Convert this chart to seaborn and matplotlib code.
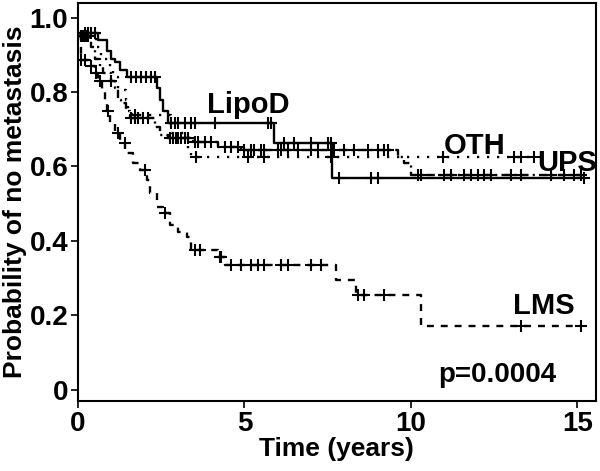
import numpy as np
import pandas as pd
import matplotlib
matplotlib.use('Agg')
import matplotlib.pyplot as plt
import seaborn as sns

# Kaplan-Meier steps (time in years, survival)
lipod_t = [0, 0.6, 0.87, 1.0, 1.1, 1.25, 1.47, 2.36, 2.45, 2.55, 2.7, 5.9, 7.63, 15.2]
lipod_s = [0.96, 0.94, 0.91, 0.89, 0.88, 0.86, 0.84, 0.81, 0.78, 0.75, 0.716, 0.663, 0.569, 0.569]
lipod_c = [0.2, 0.3, 0.4, 0.5, 1.6, 1.75, 1.9, 2.05, 2.2, 2.3, 2.8, 2.9, 3.0, 3.2, 3.4, 3.5,
           4.1, 5.7, 5.8, 6.2, 6.5, 7.0, 7.5, 7.6, 7.85, 8.8, 9.0, 15.2]

oth_t = [0, 0.55, 0.7, 0.95, 1.05, 1.2, 1.45, 1.5, 1.62, 2.8, 3.3, 3.4, 13.7]
oth_s = [0.95, 0.92, 0.89, 0.865, 0.84, 0.805, 0.78, 0.74, 0.738, 0.69, 0.645, 0.625, 0.625]
oth_c = [0.15, 0.25, 1.7, 3.55, 5.1, 5.6, 7.6, 10.95, 13.1, 13.3, 13.7]

ups_t = [0, 0.35, 0.4, 0.5, 0.65, 0.75, 1.0, 1.1, 1.2, 1.3, 1.45, 1.55, 2.3, 2.45, 2.7,
         3.45, 4.2, 4.9, 9.6, 9.8, 10.0, 15.1]
ups_s = [0.95, 0.94, 0.92, 0.89, 0.867, 0.85, 0.83, 0.81, 0.78, 0.77, 0.75, 0.73, 0.706,
         0.685, 0.676, 0.666, 0.653, 0.645, 0.625, 0.61, 0.577, 0.577]
ups_c = [0.1, 0.2, 0.3, 1.0, 1.6, 1.7, 1.8, 1.95, 2.1, 2.75, 2.85, 2.95, 3.0, 3.1, 3.2, 3.3,
         3.5, 3.6, 3.8, 4.0, 4.4, 4.6, 4.8, 5.0, 5.2, 5.3, 5.5, 5.6, 6.0, 6.1, 6.3, 6.6,
         7.0, 7.2, 7.7, 8.0, 8.3, 8.7, 9.0, 9.2, 9.3, 10.2, 10.3, 11.0, 11.2, 11.6, 11.8,
         12.0, 12.2, 12.4, 13.0, 13.3, 14.2, 14.6, 14.9, 15.1]

lms_t = [0, 0.1, 0.36, 0.5, 0.6, 0.72, 0.8, 0.87, 0.96, 1.1, 1.26, 1.41, 1.65, 1.86, 2.07,
         2.16, 2.36, 2.54, 2.75, 3.0, 3.26, 3.4, 4.2, 4.4, 7.75, 8.35, 10.3, 15.1]
lms_s = [0.95, 0.886, 0.87, 0.85, 0.83, 0.805, 0.78, 0.75, 0.717, 0.69, 0.663, 0.636, 0.609,
         0.59, 0.564, 0.53, 0.49, 0.475, 0.443, 0.424, 0.41, 0.376, 0.357, 0.336, 0.295,
         0.255, 0.17, 0.17]
lms_c = [0.1, 0.2, 0.4, 0.55, 0.65, 0.9, 1.2, 1.4, 2.0, 2.6, 3.5, 3.65, 4.25, 4.3, 4.6, 4.9,
         5.2, 5.4, 5.6, 6.1, 6.3, 7.0, 7.3, 8.4, 8.6, 9.2, 13.3, 15.1]

labels = ['LipoD', 'OTH', 'UPS', 'LMS']
label_xy = [(5.1, 0.765), (11.9, 0.655), (14.7, 0.61), (14.0, 0.225)]

plt.rcParams['font.family'] = ['Liberation Sans', 'DejaVu Sans']
plt.rcParams['lines.scale_dashes'] = False

fig = plt.figure(figsize=(6, 4.71), dpi=100)
ax = fig.add_axes([0.13, 0.149, 0.863, 0.845])

styles = {
    'LipoD': '-',
    'OTH': (0, (1.6, 5.6)),
    'UPS': (0, (6, 3, 1.5, 3)),
    'LMS': (0, (5, 5)),
}
curves = {
    'LipoD': (lipod_t, lipod_s, lipod_c),
    'OTH': (oth_t, oth_s, oth_c),
    'UPS': (ups_t, ups_s, ups_c),
    'LMS': (lms_t, lms_s, lms_c),
}

for name in labels:
    t, s, c = curves[name]
    df = pd.DataFrame({'time': t, 'surv': s})
    sns.lineplot(data=df, x='time', y='surv', ax=ax, color='black', lw=1.7,
                 linestyle=styles[name], drawstyle='steps-post',
                 estimator=None, sort=False)
    # censor marks sit on the step function
    idx = np.searchsorted(np.array(t), np.array(c), side='right') - 1
    cdf = pd.DataFrame({'time': c, 'surv': np.array(s)[idx]})
    sns.scatterplot(data=cdf, x='time', y='surv', ax=ax, marker='+', color='black',
                    s=80, linewidth=1.5)

for name, (lx, ly) in zip(labels, label_xy):
    ax.text(lx, ly, name, ha='center', va='center', fontsize=21, fontweight='bold')
ax.text(12.6, 0.04, 'p=0.0004', ha='center', va='center', fontsize=20, fontweight='bold')

ax.set_xlim(0, 15.55)
ax.set_ylim(-0.03, 1.04)
ax.set_xticks([0, 5, 10, 15])
ax.set_yticks([0, 0.2, 0.4, 0.6, 0.8, 1.0])
ax.set_yticklabels(['0', '0.2', '0.4', '0.6', '0.8', '1.0'])
ax.tick_params(direction='out', length=5, width=1.2, labelsize=20, pad=2)
for lab in ax.get_xticklabels() + ax.get_yticklabels():
    lab.set_fontweight('bold')
for sp in ax.spines.values():
    sp.set_linewidth(1.5)
ax.set_xlabel('Time (years)', fontsize=19, fontweight='bold', labelpad=0)
ax.set_ylabel('Probability of no metastasis', fontsize=19, fontweight='bold', labelpad=2)

fig.savefig('out.png', dpi=100)
